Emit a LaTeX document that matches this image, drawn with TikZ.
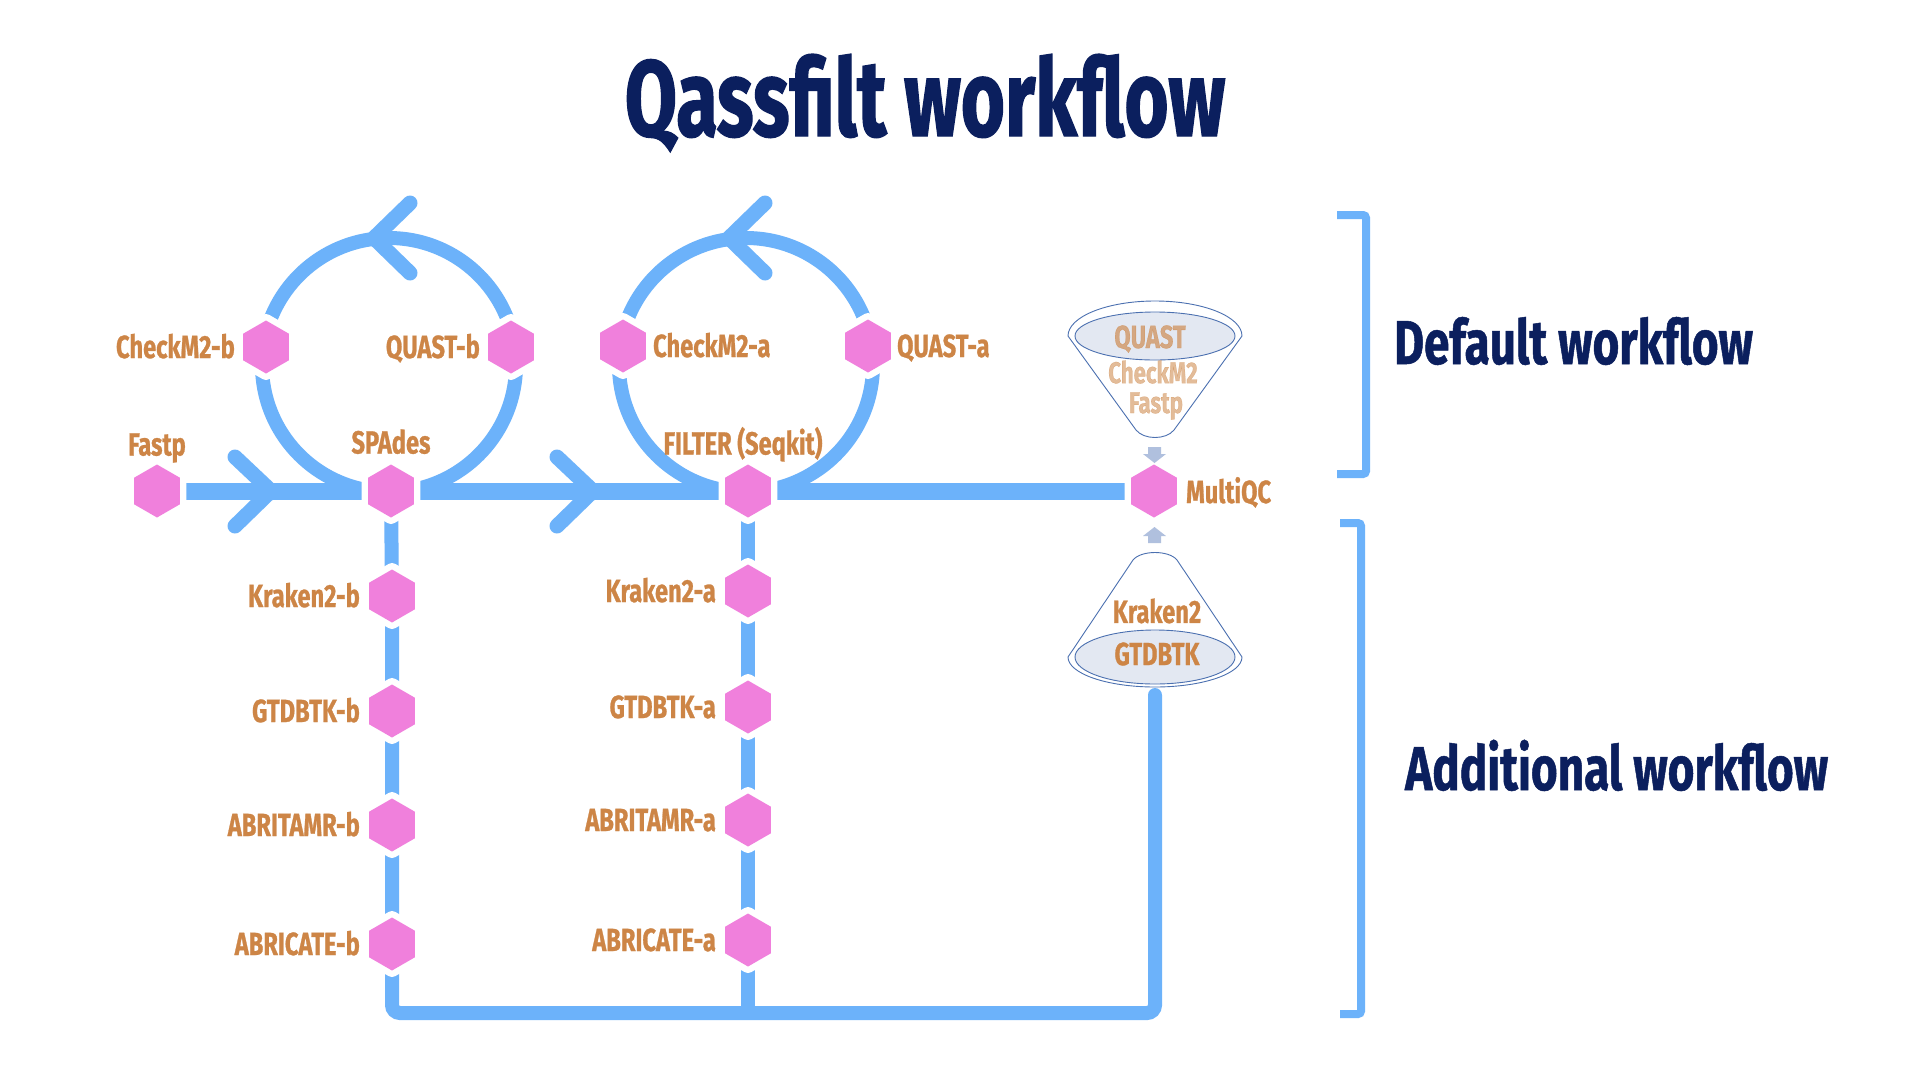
\documentclass[tikz,border=0pt]{standalone}
\usepackage{fontspec}
\newfontfamily\cond[FakeStretch=0.74,FakeBold=0.8]{Fira Sans}
\newfontfamily\condt[FakeStretch=0.70,FakeBold=1.2]{Fira Sans}
\usetikzlibrary{shapes.geometric,calc}
\definecolor{flow}{RGB}{108,178,250}
\definecolor{hexpink}{RGB}{240,128,220}
\definecolor{labc}{RGB}{205,133,70}
\definecolor{navy}{RGB}{11,31,94}
\definecolor{funfill}{RGB}{227,232,242}
\definecolor{funline}{RGB}{75,112,176}
\definecolor{arrowc}{RGB}{176,192,222}
\pgfdeclarelayer{bg}
\pgfsetlayers{bg,main}
\begin{document}
\begin{tikzpicture}[x=1pt,y=-1pt,
  hexnode/.style={regular polygon, regular polygon sides=6, shape border rotate=30,
    minimum size=53pt, inner sep=0pt, outer sep=0pt, fill=hexpink,
    preaction={draw=white, line width=13pt, line join=round}},
  lab/.style={font=\cond\bfseries\fontsize{32}{32}\selectfont, text=labc, inner sep=0pt},
  funlab/.style={lab, font=\cond\bfseries\fontsize{30}{30}\selectfont, text opacity=0.55},
  heading/.style={font=\cond\bfseries\fontsize{62}{62}\selectfont, text=navy, inner sep=0pt},
  mainline/.style={draw=flow, line width=17pt, line cap=butt},
  ringline/.style={draw=flow, line width=14pt},
  vline/.style={draw=flow, line width=14pt, rounded corners=8pt},
  chevron/.style={draw=flow, line width=15pt, line cap=round, line join=round},
  bracketline/.style={draw=flow, line width=8pt, rounded corners=3pt},
  funout/.style={draw=funline, line width=0.9pt},
  funin/.style={draw=funline, line width=0.9pt, fill=funfill},
  smallarrow/.style={fill=arrowc, draw=none}
]
\useasboundingbox (0,0) rectangle (1920,1080);

% title
\node[heading, font=\condt\bfseries\fontsize{108}{108}\selectfont, anchor=base] (title) at (925,136) {Qassfilt workflow};

% hexagon nodes
\node[hexnode] (fastp)   at (157,491) {};
\node[hexnode] (spades)  at (391,491) {};
\node[hexnode] (filter)  at (748,491) {};
\node[hexnode] (multiqc) at (1154,491) {};
\node[hexnode] (checkmb) at (266,347) {};
\node[hexnode] (quastb)  at (511,347) {};
\node[hexnode] (checkma) at (623,346) {};
\node[hexnode] (quasta)  at (868,346) {};
\node[hexnode] (krb)  at (392,596) {};
\node[hexnode] (gtb)  at (392,711) {};
\node[hexnode] (abrb) at (392,825) {};
\node[hexnode] (abcb) at (392,944) {};
\node[hexnode] (kra)  at (748,591) {};
\node[hexnode] (gta)  at (748,707) {};
\node[hexnode] (abra) at (748,820) {};
\node[hexnode] (abca) at (748,940) {};

% labels
\node[lab, anchor=base] (lfastp) at ($(fastp.north)+(0,-9)$) {Fastp};
\node[lab, anchor=base] (lspades) at ($(spades.north)+(0,-11)$) {SPAdes};
\node[lab, anchor=base] (lfilter) at ($(filter.north)+(-5,-10)$) {FILTER (Seqkit)};
\node[lab, anchor=base west] (lmultiqc) at ($(multiqc.east)+(9,12)$) {MultiQC};
\node[lab, anchor=base east] (lcheckmb) at ($(checkmb.west)+(-8,11)$) {CheckM2-b};
\node[lab, anchor=base east] (lquastb) at ($(quastb.west)+(-8,11)$) {QUAST-b};
\node[lab, anchor=base west] (lcheckma) at ($(checkma.east)+(7,11)$) {CheckM2-a};
\node[lab, anchor=base west] (lquasta) at ($(quasta.east)+(6,11)$) {QUAST-a};
\node[lab, anchor=base east] (lkrb) at ($(krb.west)+(-9,11)$) {Kraken2-b};
\node[lab, anchor=base east] (lgtb) at ($(gtb.west)+(-9,11)$) {GTDBTK-b};
\node[lab, anchor=base east] (labrb) at ($(abrb.west)+(-9,11)$) {ABRITAMR-b};
\node[lab, anchor=base east] (labcb) at ($(abcb.west)+(-9,11)$) {ABRICATE-b};
\node[lab, anchor=base east] (lkra) at ($(kra.west)+(-9,11)$) {Kraken2-a};
\node[lab, anchor=base east] (lgta) at ($(gta.west)+(-9,11)$) {GTDBTK-a};
\node[lab, anchor=base east] (labra) at ($(abra.west)+(-9,11)$) {ABRITAMR-a};
\node[lab, anchor=base east] (labca) at ($(abca.west)+(-9,11)$) {ABRICATE-a};

% coordinates
\coordinate (c1) at (389,365);
\coordinate (c2) at (746,365);
\coordinate (funtop) at (1155,336);
\coordinate (funbot) at (1155,657);
\coordinate (botline) at (0,1013);

\begin{pgfonlayer}{bg}
  \fill[white] (0,0) rectangle (1920,1080);
  % loops
  \draw[ringline] (c1) circle[radius=127];
  \draw[ringline] (c2) circle[radius=127];
  \draw[chevron] (410,203) -- (374,238) -- (410,273);
  \draw[chevron] (765,203) -- (729,238) -- (765,273);
  % main line
  \draw[mainline] (fastp.center) -- (spades.center) -- (filter.center) -- (multiqc.center);
  \draw[chevron] (235,457) -- (271,491) -- (235,526);
  \draw[chevron] (557,457) -- (593,491) -- (557,526);
  % verticals
  \draw[vline] (spades.center) -- (krb.center) -- (gtb.center) -- (abrb.center) -- (abcb.center)
     -- (abcb.center |- botline) -- (funbot |- botline) -- ($(funbot)+(0,38)$);
  \draw[draw=flow, line width=14pt, line cap=round] ($(funbot)+(0,38)$) -- ($(funbot)+(0,43)$);
  \draw[vline] (filter.center) -- (kra.center) -- (gta.center) -- (abra.center) -- (abca.center)
     -- (abca.center |- botline);
\end{pgfonlayer}

% top funnel
\draw[funout] (1068,336) arc[start angle=180, end angle=360, x radius=87, y radius=35]
   -- (1174,430) .. controls (1166,440) and (1144,440) .. (1136,430) -- cycle;
\draw[funin] (funtop) ellipse[x radius=80, y radius=24];
\node[lab, text opacity=0.65] (fq) at (1150,339) {QUAST};
\node[funlab] (fc) at (1153,372) {CheckM2};
\node[funlab] (ff) at (1156,406) {Fastp};

% bottom funnel
\draw[funout] (1068,657) arc[start angle=180, end angle=0, x radius=87, y radius=30]
   -- (1177,560) .. controls (1169,550) and (1141,550) .. (1133,560) -- cycle;
\draw[funin] (funbot) ellipse[x radius=80, y radius=27];
\node[lab] (fk) at (1157,611) {Kraken2};
\node[lab] (fg) at (1157,654) {GTDBTK};

% small arrows to MultiQC
\fill[smallarrow] (1148,447) -- (1161,447) -- (1161,454) -- (1166,454) -- (1154.5,463) -- (1143,454) -- (1148,454) -- cycle;
\fill[smallarrow] (1148,543) -- (1161,543) -- (1161,536) -- (1166,536) -- (1154.5,527) -- (1143,536) -- (1148,536) -- cycle;

% brackets
\draw[bracketline] (1337,215) -- (1366,215) -- (1366,474) -- (1337,474);
\draw[bracketline] (1340,523) -- (1361,523) -- (1361,1014) -- (1340,1014);

\node[heading, anchor=base west] (dflt) at (1394,364) {Default workflow};
\node[heading, anchor=base west] (addl) at (1405,790) {Additional workflow};
\end{tikzpicture}
\end{document}
